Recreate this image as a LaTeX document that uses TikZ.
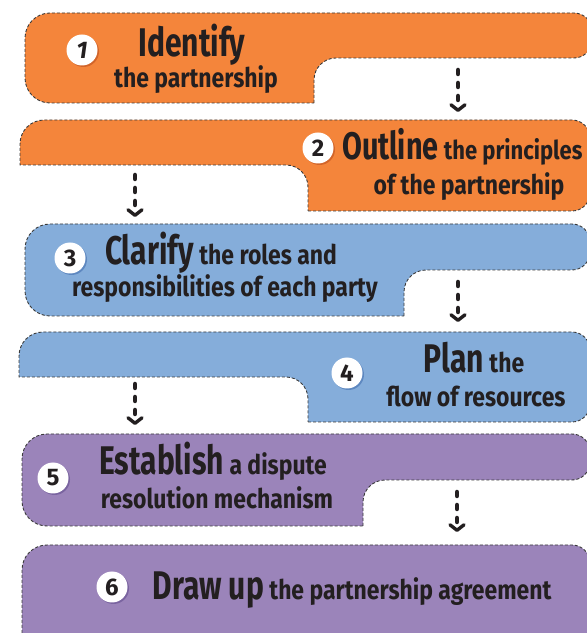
\documentclass[tikz,border=0pt]{standalone}
\usepackage{fontspec}
\setmainfont{Fira Sans}
\newfontfamily\headfam[FakeStretch=0.75]{Fira Sans}
\newfontfamily\bodyfam[FakeStretch=0.85]{Fira Sans}
\usetikzlibrary{arrows.meta}
\definecolor{orng}{HTML}{F4853B}
\definecolor{orngd}{HTML}{D2652A}
\definecolor{blu}{HTML}{85ADDA}
\definecolor{blud}{HTML}{5E88C0}
\definecolor{purp}{HTML}{9B84BA}
\definecolor{purpd}{HTML}{7A64A0}
\definecolor{ink}{HTML}{231F20}
\definecolor{edgecol}{HTML}{3A3A3A}
\newcommand{\headw}[1]{{\headfam\bfseries\fontsize{40}{40}\selectfont #1}}
\newcommand{\bodyw}[1]{{\bodyfam\bfseries\fontsize{27}{27}\selectfont #1}}
\tikzset{
  stepshape/.style={draw=edgecol, line width=0.9pt, dash pattern=on 3pt off 2pt},
  numcirc/.style={circle, fill=white, minimum size=31pt, inner sep=0pt,
    font=\bfseries\fontsize{24}{24}\selectfont, text=ink},
  txt/.style={inner sep=0pt, text=ink, anchor=base},
  flow/.style={draw=ink, line width=4.5pt, line cap=round, dash pattern=on 4pt off 9pt,
    -{Straight Barb[round,length=5.5pt,width=14pt,line width=3.4pt]}}
}
\begin{document}
\begin{tikzpicture}[x=1pt,y=1pt]
\useasboundingbox (0,0) rectangle (587,633);
\clip (0,0) rectangle (587,633);
% shapes
\path[fill=orng, stepshape] (314,530) -- (314,553) arc[start angle=180,end angle=90,radius=22]
  -- (574,575) arc[start angle=-90,end angle=0,radius=18] -- (592,602)
  arc[start angle=0,end angle=90,radius=18] -- (50,620) arc[start angle=90,end angle=180,radius=25]
  -- (25,555) arc[start angle=180,end angle=270,radius=25] -- cycle;
\path[fill=orng, stepshape] (308,422) -- (572,422) arc[start angle=-90,end angle=0,radius=18]
  -- (590,495) arc[start angle=0,end angle=90,radius=18] -- (44,513)
  arc[start angle=90,end angle=180,radius=24] -- (20,468) -- (286,468)
  arc[start angle=90,end angle=0,radius=22] -- cycle;
\path[fill=blu, stepshape] (404,317) -- (404,341) arc[start angle=180,end angle=90,radius=22]
  -- (572,363) arc[start angle=-90,end angle=0,radius=18] -- (590,391)
  arc[start angle=0,end angle=90,radius=18] -- (50,409) arc[start angle=90,end angle=180,radius=25]
  -- (25,342) arc[start angle=180,end angle=270,radius=25] -- cycle;
\path[fill=blu, stepshape] (308,211) -- (572,211) arc[start angle=-90,end angle=0,radius=18]
  -- (590,283) arc[start angle=0,end angle=90,radius=18] -- (43,301)
  arc[start angle=90,end angle=180,radius=24] -- (19,256) -- (286,256)
  arc[start angle=90,end angle=0,radius=22] -- cycle;
\path[fill=purp, stepshape] (363,107) -- (363,131) arc[start angle=180,end angle=90,radius=22]
  -- (572,153) arc[start angle=-90,end angle=0,radius=18] -- (590,181)
  arc[start angle=0,end angle=90,radius=18] -- (47,199) arc[start angle=90,end angle=180,radius=25]
  -- (22,132) arc[start angle=180,end angle=270,radius=25] -- cycle;
\path[fill=purp, stepshape] (22,-20) -- (22,63) arc[start angle=180,end angle=90,radius=25]
  -- (572,88) arc[start angle=90,end angle=0,radius=18] -- (590,-20) -- cycle;
% number circles
\fill[orngd] (83.5,581.5) circle (15.5);
\node[numcirc] (n1) at (82,583) {\itshape 1};
\fill[orngd] (319.5,483.5) circle (15.5);
\node[numcirc] (n2) at (318,485) {2};
\fill[blud] (71.5,373.5) circle (15.5);
\node[numcirc] (n3) at (70,375) {3};
\fill[blud] (348.5,258.5) circle (15.5);
\node[numcirc] (n4) at (347,260) {4};
\fill[purpd] (54.5,153.5) circle (15.5);
\node[numcirc] (n5) at (53,155) {5};
\fill[purpd] (113.5,44.5) circle (15.5);
\node[numcirc] (n6) at (112,46) {6};
% texts
\node[txt] (t1a) at (192,576) {\headw{Identify}};
\node[txt] (t1b) at (196,545) {\bodyw{the partnership}};
\node[txt, anchor=base west, scale=0.96] (t2a) at (342,473) {\headw{Outline}\bodyw{\ the principles}};
\node[txt] (t2b) at (469,438) {\bodyw{of the partnership}};
\node[txt] (t3a) at (221,368) {\headw{Clarify}\bodyw{\ the roles and}};
\node[txt] (t3b) at (225,336) {\bodyw{responsibilities of each party}};
\node[txt] (t4a) at (474,260) {\headw{Plan}\bodyw{\ the}};
\node[txt] (t4b) at (476,226) {\bodyw{flow of resources}};
\node[txt] (t5a) at (213,158) {\headw{Establish}\bodyw{\ a dispute}};
\node[txt] (t5b) at (217,124) {\bodyw{resolution mechanism}};
\node[txt] (t6) at (352,33) {\headw{Draw up}\bodyw{\ the partnership agreement}};
% arrows
\coordinate (a1s) at (458,563); \coordinate (a1e) at (458,521);
\coordinate (a2s) at (135,458); \coordinate (a2e) at (135,416);
\coordinate (a3s) at (458,351); \coordinate (a3e) at (458,311);
\coordinate (a4s) at (135,249); \coordinate (a4e) at (135,208);
\coordinate (a5s) at (457,141); \coordinate (a5e) at (457,101);
\draw[flow] (a1s) -- (a1e);
\draw[flow] (a2s) -- (a2e);
\draw[flow] (a3s) -- (a3e);
\draw[flow] (a4s) -- (a4e);
\draw[flow] (a5s) -- (a5e);
\end{tikzpicture}
\end{document}
